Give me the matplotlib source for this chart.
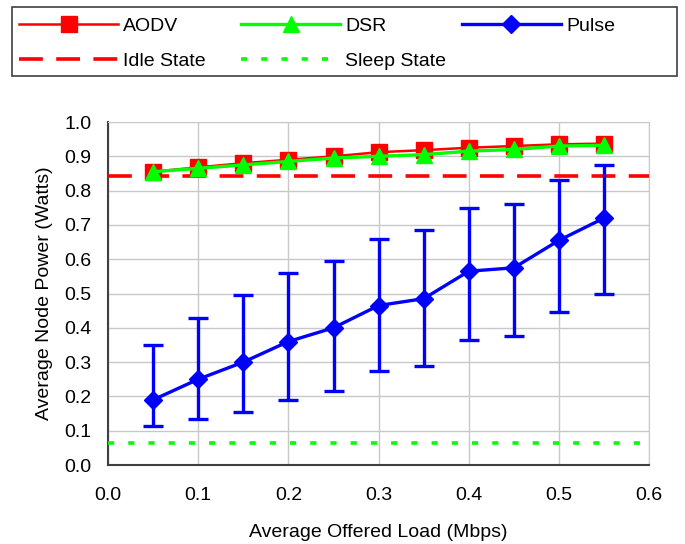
import matplotlib
matplotlib.use("Agg")
import matplotlib.pyplot as plt
from matplotlib.patches import Rectangle
from matplotlib.ticker import FormatStrFormatter

plt.rcParams['font.family'] = ['Liberation Sans', 'DejaVu Sans']

load = [0.05, 0.10, 0.15, 0.20, 0.25, 0.30, 0.35, 0.40, 0.45, 0.50, 0.55]
aodv = [0.855, 0.868, 0.880, 0.890, 0.900, 0.912, 0.918, 0.925, 0.930, 0.935, 0.937]
dsr = [0.855, 0.865, 0.875, 0.885, 0.895, 0.900, 0.905, 0.915, 0.920, 0.930, 0.932]
pulse = [0.19, 0.25, 0.30, 0.36, 0.40, 0.465, 0.485, 0.565, 0.575, 0.655, 0.72]
pulse_hi = [0.35, 0.43, 0.495, 0.56, 0.595, 0.66, 0.685, 0.75, 0.76, 0.83, 0.875]
pulse_lo = [0.115, 0.135, 0.155, 0.19, 0.215, 0.275, 0.29, 0.365, 0.375, 0.445, 0.50]
idle = 0.843
sleep = 0.065

fig = plt.figure(figsize=(6.85, 5.44), dpi=100)
ax = fig.add_axes([0.1577, 0.1452, 0.790, 0.6305])

yerr = [[p - l for p, l in zip(pulse, pulse_lo)], [h - p for p, h in zip(pulse, pulse_hi)]]

l_idle, = ax.plot([0, 0.6], [idle, idle], color='#ff0000', lw=2.6, ls=(0, (6.6, 3.7)), zorder=3)
l_sleep, = ax.plot([0, 0.6], [sleep, sleep], color='#00ff00', lw=2.6, ls=(0, (1.7, 3.9)), zorder=3)
l_aodv, = ax.plot(load, aodv, color='#ff0000', lw=1.8, marker='s', ms=11, zorder=4)
l_dsr, = ax.plot(load, dsr, color='#00ff00', lw=2.4, marker='^', ms=11, zorder=5)
eb = ax.errorbar(load, pulse, yerr=yerr, color='#0000ff', lw=2.4, marker='D', ms=9,
                 capsize=7, capthick=2.4, elinewidth=2.4, zorder=4)

ax.set_xlim(0, 0.6)
ax.set_ylim(0, 1.0)
ax.set_xticks([0.0, 0.1, 0.2, 0.3, 0.4, 0.5, 0.6])
ax.set_yticks([i / 10 for i in range(11)])
ax.xaxis.set_major_formatter(FormatStrFormatter('%.1f'))
ax.yaxis.set_major_formatter(FormatStrFormatter('%.1f'))
ax.tick_params(labelsize=14, length=0)
ax.tick_params(axis='x', pad=16)
ax.tick_params(axis='y', pad=12)
ax.grid(True, color='#c8c8c8', lw=1)
ax.set_axisbelow(True)
for s in ['top', 'right']:
    ax.spines[s].set_color('#c8c8c8')
for s in ['left', 'bottom']:
    ax.spines[s].set_color('#404040')
    ax.spines[s].set_linewidth(1.5)
ax.set_xlabel('Average Offered Load (Mbps)', fontsize=14, labelpad=14)
ax.set_ylabel('Average Node Power (Watts)', fontsize=14, labelpad=8)

# legend box across the top, three fixed-width columns
fig.patches.append(Rectangle((0.0175, 0.860), 0.971, 0.127, transform=fig.transFigure,
                             fill=False, edgecolor='#404040', lw=1.2))
cols = [([l_aodv, l_idle], ['AODV', 'Idle State'], 0.0277),
        ([l_dsr, l_sleep], ['DSR', 'Sleep State'], 0.352),
        ([eb.lines[0]], ['Pulse'], 0.674)]
for h, lab, x in cols:
    leg = fig.legend(h, lab, loc='upper left', bbox_to_anchor=(x, 0.968), fontsize=14,
                     frameon=False, handlelength=5.1, handletextpad=0.26, borderpad=0,
                     borderaxespad=0, labelspacing=0.9)

fig.savefig('out.png', dpi=100)
